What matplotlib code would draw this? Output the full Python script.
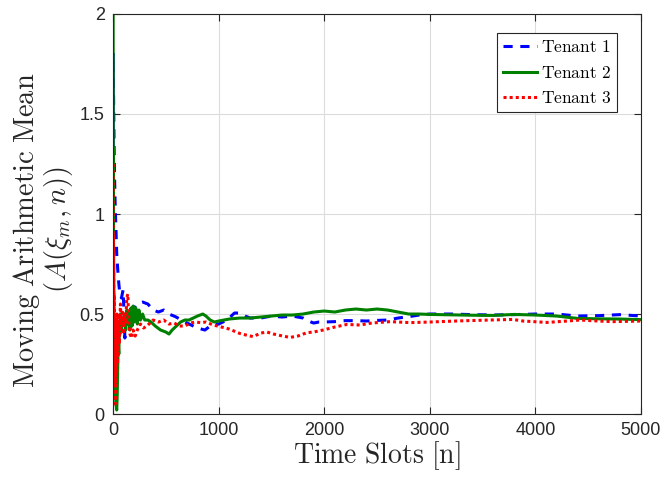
import numpy as np
import matplotlib
matplotlib.use("Agg")
import matplotlib.pyplot as plt

# ── DATA ──────────────────────────────────────────────────────────────────────
n_t1 = [1, 2, 4, 7, 10, 14, 20, 28, 35, 45, 55, 65, 80, 95, 105, 112, 120, 140,
        170, 200, 240, 280, 330, 380, 430, 480, 530, 590, 650, 700, 740, 800,
        870, 920, 1000, 1080, 1150, 1200, 1250, 1300, 1400, 1500, 1600, 1700,
        1800, 1850, 1900, 1950, 2000, 2100, 2200, 2300, 2400, 2500, 2600, 2700,
        2800, 2900, 3000, 3200, 3400, 3600, 3800, 4000, 4200, 4400, 4600, 4800,
        5000]
a_t1 = [1.0, 1.8, 1.65, 1.5, 1.35, 1.2, 1.05, 0.92, 0.8, 0.72, 0.65, 0.6, 0.58,
        0.62, 0.5, 0.38, 0.45, 0.5, 0.52, 0.53, 0.555, 0.56, 0.55, 0.52, 0.51,
        0.52, 0.5, 0.487, 0.47, 0.455, 0.445, 0.43, 0.42, 0.44, 0.45, 0.47,
        0.505, 0.505, 0.49, 0.48, 0.48, 0.49, 0.485, 0.49, 0.48, 0.465, 0.455,
        0.46, 0.46, 0.462, 0.467, 0.467, 0.465, 0.468, 0.47, 0.48, 0.487, 0.495,
        0.5, 0.5, 0.497, 0.495, 0.497, 0.5, 0.5, 0.49, 0.492, 0.497, 0.49]

n_t2 = [1, 2, 3, 4, 6, 8, 10, 13, 17, 22, 28, 35, 40, 45, 50, 55, 60, 65, 70,
        80, 90, 100, 110, 120, 130, 140, 150, 160, 170, 180, 190, 200, 215,
        230, 245, 260, 280, 300, 330, 360, 400, 450, 500, 530, 560, 600, 640,
        680, 720, 760, 800, 850, 880, 920, 960, 1000, 1100, 1200, 1300, 1400,
        1500, 1600, 1700, 1800, 1900, 2000, 2100, 2200, 2300, 2400, 2500, 2600,
        2700, 2800, 2900, 3000, 3200, 3400, 3600, 3800, 4000, 4200, 4400, 4600,
        4800, 5000]
a_t2 = [2.0, 1.0, 1.33, 1.0, 0.67, 0.5, 0.4, 0.3, 0.2, 0.1, 0.05, 0.02, 0.1,
        0.25, 0.35, 0.3, 0.45, 0.4, 0.5, 0.42, 0.48, 0.45, 0.5, 0.42, 0.52,
        0.45, 0.5, 0.42, 0.53, 0.44, 0.54, 0.46, 0.53, 0.45, 0.52, 0.47, 0.5,
        0.47, 0.47, 0.46, 0.44, 0.42, 0.41, 0.4, 0.42, 0.44, 0.46, 0.47, 0.47,
        0.48, 0.49, 0.5, 0.49, 0.47, 0.46, 0.465, 0.475, 0.48, 0.48, 0.485,
        0.49, 0.495, 0.495, 0.5, 0.51, 0.515, 0.51, 0.52, 0.525, 0.52, 0.525,
        0.52, 0.51, 0.5, 0.5, 0.498, 0.496, 0.494, 0.493, 0.498, 0.495, 0.49,
        0.478, 0.476, 0.475, 0.472]

n_t3 = [1, 2, 3, 4, 5, 6, 8, 10, 12, 14, 16, 18, 20, 23, 26, 30, 34, 38, 42,
        46, 50, 55, 60, 70, 80, 90, 100, 110, 120, 130, 140, 150, 160, 175, 190,
        210, 230, 260, 290, 330, 380, 430, 480, 530, 580, 630, 680, 730, 780,
        830, 880, 950, 1013, 1100, 1200, 1260, 1326, 1400, 1458, 1520, 1581,
        1676, 1750, 1837, 1900, 1989, 2100, 2216, 2339, 2450, 2623, 2813, 3000,
        3097, 3300, 3570, 3788, 3883, 4110, 4300, 4422, 4600, 4735, 5000]
a_t3 = [1.25, 1.0, 0.7, 0.9, 0.55, 0.75, 0.4, 0.6, 0.3, 0.5, 0.15, 0.45, 0.05,
        0.35, 0.15, 0.45, 0.2, 0.5, 0.25, 0.45, 0.3, 0.5, 0.35, 0.55, 0.45,
        0.52, 0.4, 0.5, 0.45, 0.58, 0.6, 0.45, 0.4, 0.38, 0.42, 0.39, 0.42,
        0.45, 0.43, 0.445, 0.47, 0.46, 0.47, 0.45, 0.455, 0.44, 0.44, 0.455,
        0.46, 0.457, 0.46, 0.445, 0.437, 0.425, 0.403, 0.395, 0.387, 0.405,
        0.41, 0.4, 0.393, 0.383, 0.39, 0.407, 0.41, 0.42, 0.435, 0.448, 0.445,
        0.455, 0.462, 0.457, 0.46, 0.462, 0.466, 0.47, 0.473, 0.465, 0.458,
        0.465, 0.47, 0.465, 0.462, 0.465]

labels = [r'$\mathrm{Tenant\ 1}$', r'$\mathrm{Tenant\ 2}$', r'$\mathrm{Tenant\ 3}$']

# ── STYLE ─────────────────────────────────────────────────────────────────────
plt.rcParams['font.family'] = ['Liberation Sans', 'DejaVu Sans']
plt.rcParams['mathtext.fontset'] = 'cm'
AX_COL = '#262626'

fig = plt.figure(figsize=(6.7, 4.9), dpi=100)
ax = fig.add_axes([0.1687, 0.155, 0.788, 0.8165])

ax.plot(n_t1, a_t1, color='#0000ff', lw=2.2, ls=(0, (3, 2.5)), label=labels[0])
ax.plot(n_t2, a_t2, color='#008000', lw=2.2, ls='-', label=labels[1])
ax.plot(n_t3, a_t3, color='#ff0000', lw=2.2, ls=(0, (1, 1)), label=labels[2])

ax.set_xlim(0, 5000)
ax.set_ylim(0, 2)
ax.set_xticks([0, 1000, 2000, 3000, 4000, 5000])
ax.set_yticks([0, 0.5, 1, 1.5, 2])
ax.set_yticklabels(['0', '0.5', '1', '1.5', '2'])
ax.tick_params(direction='in', length=5, width=0.8, labelsize=13,
               colors=AX_COL, top=True, right=True, pad=6)
for s in ax.spines.values():
    s.set_color(AX_COL)
    s.set_linewidth(0.8)
ax.grid(True, color='#dcdcdc', lw=0.8)
ax.set_axisbelow(True)

ax.set_xlabel(r'$\mathrm{Time\ Slots\ [n]}$', fontsize=20, color=AX_COL,
              labelpad=0)
ax.set_ylabel(r'$\mathrm{Moving\ Arithmetic\ Mean}$' + '\n' + r'$(A(\xi_m,n))$',
              fontsize=20.5, color=AX_COL, linespacing=1.0)
ax.yaxis.set_label_coords(-0.072, 0.46)

leg = ax.legend(loc='upper left', bbox_to_anchor=(0.727, 0.9525),
                fontsize=12.5, frameon=True, fancybox=False,
                edgecolor=AX_COL, framealpha=1, handlelength=1.95,
                handletextpad=0.25, borderpad=0.35, labelspacing=0.55,
                borderaxespad=0.0)
leg.get_frame().set_linewidth(0.8)

plt.savefig('out.png', dpi=100)
plt.close()
